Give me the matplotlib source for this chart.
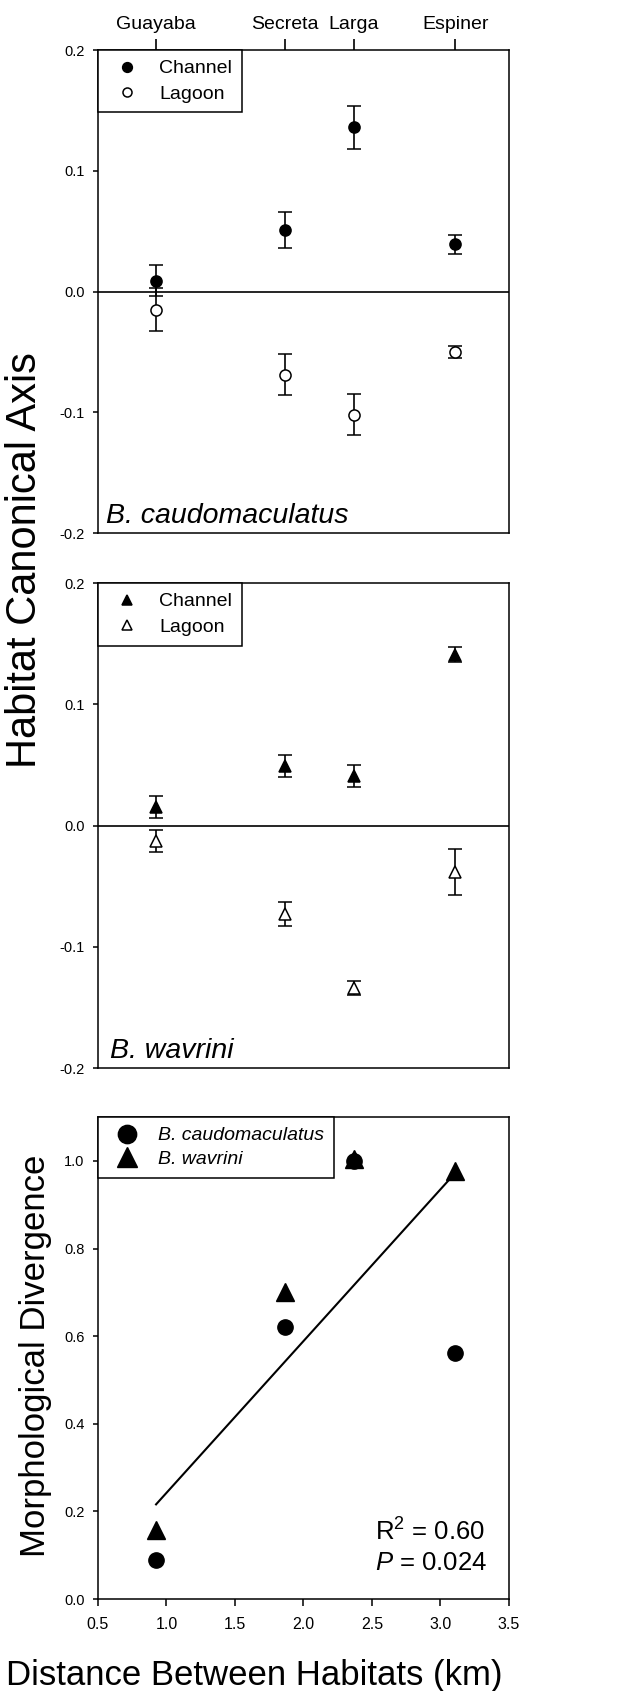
import matplotlib
matplotlib.use('Agg')
import matplotlib.pyplot as plt
from matplotlib.ticker import FormatStrFormatter
from matplotlib.lines import Line2D

plt.rcParams['font.family'] = ['Liberation Sans', 'DejaVu Sans']
plt.rcParams['mathtext.fontset'] = 'custom'
plt.rcParams['mathtext.rm'] = 'Liberation Sans'
plt.rcParams['mathtext.it'] = 'Liberation Sans:italic'
plt.rcParams['axes.unicode_minus'] = False
plt.rcParams['axes.linewidth'] = 1.1

# sites and distance between habitats (km)
sites = ['Guayaba', 'Secreta', 'Larga', 'Espiner']
dist = [0.924, 1.868, 2.366, 3.11]

# B. caudomaculatus habitat canonical axis (mean, se)
bc_channel = [0.009, 0.051, 0.136, 0.039]
bc_channel_se = [0.013, 0.015, 0.018, 0.008]
bc_lagoon = [-0.015, -0.069, -0.102, -0.050]
bc_lagoon_se = [0.018, 0.017, 0.017, 0.005]

# B. wavrini habitat canonical axis (mean, se)
bw_channel = [0.015, 0.049, 0.041, 0.141]
bw_channel_se = [0.009, 0.009, 0.009, 0.006]
bw_lagoon = [-0.013, -0.073, -0.134, -0.038]
bw_lagoon_se = [0.009, 0.010, 0.006, 0.019]

# morphological divergence
md_bc = [0.089, 0.62, 1.0, 0.561]
md_bw = [0.157, 0.70, 1.005, 0.977]
fit_x = [0.924, 3.11]
fit_y = [0.216, 0.973]

fig = plt.figure(figsize=(6.17, 16.91), dpi=100)
ax1 = fig.add_axes([0.1588, 0.6848, 0.666, 0.2856])
ax2 = fig.add_axes([0.1588, 0.3684, 0.666, 0.2868])
ax3 = fig.add_axes([0.1588, 0.0544, 0.666, 0.2850])

eb = dict(ls='none', ecolor='black', elinewidth=1.2, capsize=4.7, capthick=1.2, mec='black', mew=1.1)

def top_panel(ax, ch, ch_se, lg, lg_se, mk, name, name_x, sitelabels):
    ax.errorbar(dist, ch, yerr=ch_se, fmt=mk, ms=8, mfc='black', **eb)
    ax.errorbar(dist, lg, yerr=lg_se, fmt=mk, ms=8, mfc='white', **eb)
    ax.axhline(0, color='black', lw=1.2, zorder=0)
    ax.set_xlim(0.5, 3.5)
    ax.set_ylim(-0.2, 0.2)
    ax.set_yticks([-0.2, -0.1, 0.0, 0.1, 0.2])
    ax.yaxis.set_major_formatter(FormatStrFormatter('%.1f'))
    ax.tick_params(axis='y', direction='out', length=3.6, width=1.1, pad=6, labelsize=10.5)
    if sitelabels:
        ax.xaxis.tick_top()
        ax.set_xticks(dist)
        ax.set_xticklabels(sites)
        ax.tick_params(axis='x', direction='out', length=8, width=1.2, pad=4, labelsize=14,
                       bottom=False, labelbottom=False)
    else:
        ax.set_xticks([])
    ax.text(name_x, 0.02, name, transform=ax.transAxes, fontsize=20.5, style='italic', va='baseline')
    handles = [Line2D([0], [0], marker=mk, ls='none', ms=7, mfc='black', mec='black', mew=1.1),
               Line2D([0], [0], marker=mk, ls='none', ms=6.5, mfc='white', mec='black', mew=1.1)]
    leg = ax.legend(handles, ['Channel', 'Lagoon'], loc='upper left', bbox_to_anchor=(0, 1),
                    borderaxespad=0, fontsize=14, fancybox=False, framealpha=1, edgecolor='black',
                    handlelength=2.0, handletextpad=0.65, labelspacing=0.4, borderpad=0.5)
    leg.get_frame().set_linewidth(1.1)

top_panel(ax1, bc_channel, bc_channel_se, bc_lagoon, bc_lagoon_se, 'o', 'B. caudomaculatus', 0.019, True)
top_panel(ax2, bw_channel, bw_channel_se, bw_lagoon, bw_lagoon_se, '^', 'B. wavrini', 0.029, False)

# bottom panel
ax3.plot(fit_x, fit_y, color='black', lw=1.5, zorder=1)
ax3.plot(dist, md_bc, 'o', ms=11, color='black', ls='none', label='B. caudomaculatus', zorder=2)
ax3.plot(dist, md_bw, '^', ms=12.5, color='black', ls='none', label='B. wavrini', zorder=2)
ax3.set_xlim(0.5, 3.5)
ax3.set_ylim(0, 1.1)
ax3.set_xticks([0.5, 1.0, 1.5, 2.0, 2.5, 3.0, 3.5])
ax3.set_yticks([0.0, 0.2, 0.4, 0.6, 0.8, 1.0])
ax3.xaxis.set_major_formatter(FormatStrFormatter('%.1f'))
ax3.yaxis.set_major_formatter(FormatStrFormatter('%.1f'))
ax3.tick_params(axis='y', direction='out', length=3.6, width=1.1, pad=6, labelsize=10.5)
ax3.tick_params(axis='x', direction='out', length=5, width=1.1, pad=8, labelsize=11.5)
leg3 = ax3.legend(loc='upper left', bbox_to_anchor=(0, 1), borderaxespad=0,
                  prop={'style': 'italic', 'size': 14}, fancybox=False, framealpha=1,
                  edgecolor='black', handlelength=2.0, handletextpad=0.6, labelspacing=0.3,
                  borderpad=0.5, markerscale=1.2)
leg3.get_frame().set_linewidth(1.1)
ax3.text(0.674, 0.139, 'R$^2$ = 0.60', transform=ax3.transAxes, fontsize=18.5, va='center')
ax3.text(0.674, 0.075, '$\\it{P}$ = 0.024', transform=ax3.transAxes, fontsize=18.5, va='center')

fig.text(0.04, 0.669, 'Habitat Canonical Axis', rotation=90, ha='center', va='center', fontsize=30)
fig.text(0.057, 0.198, 'Morphological Divergence', rotation=90, ha='center', va='center', fontsize=25)
fig.text(0.412, 1 - 1676 / 1691, 'Distance Between Habitats (km)', ha='center', va='center', fontsize=25)

fig.savefig('out.png', dpi=100)
